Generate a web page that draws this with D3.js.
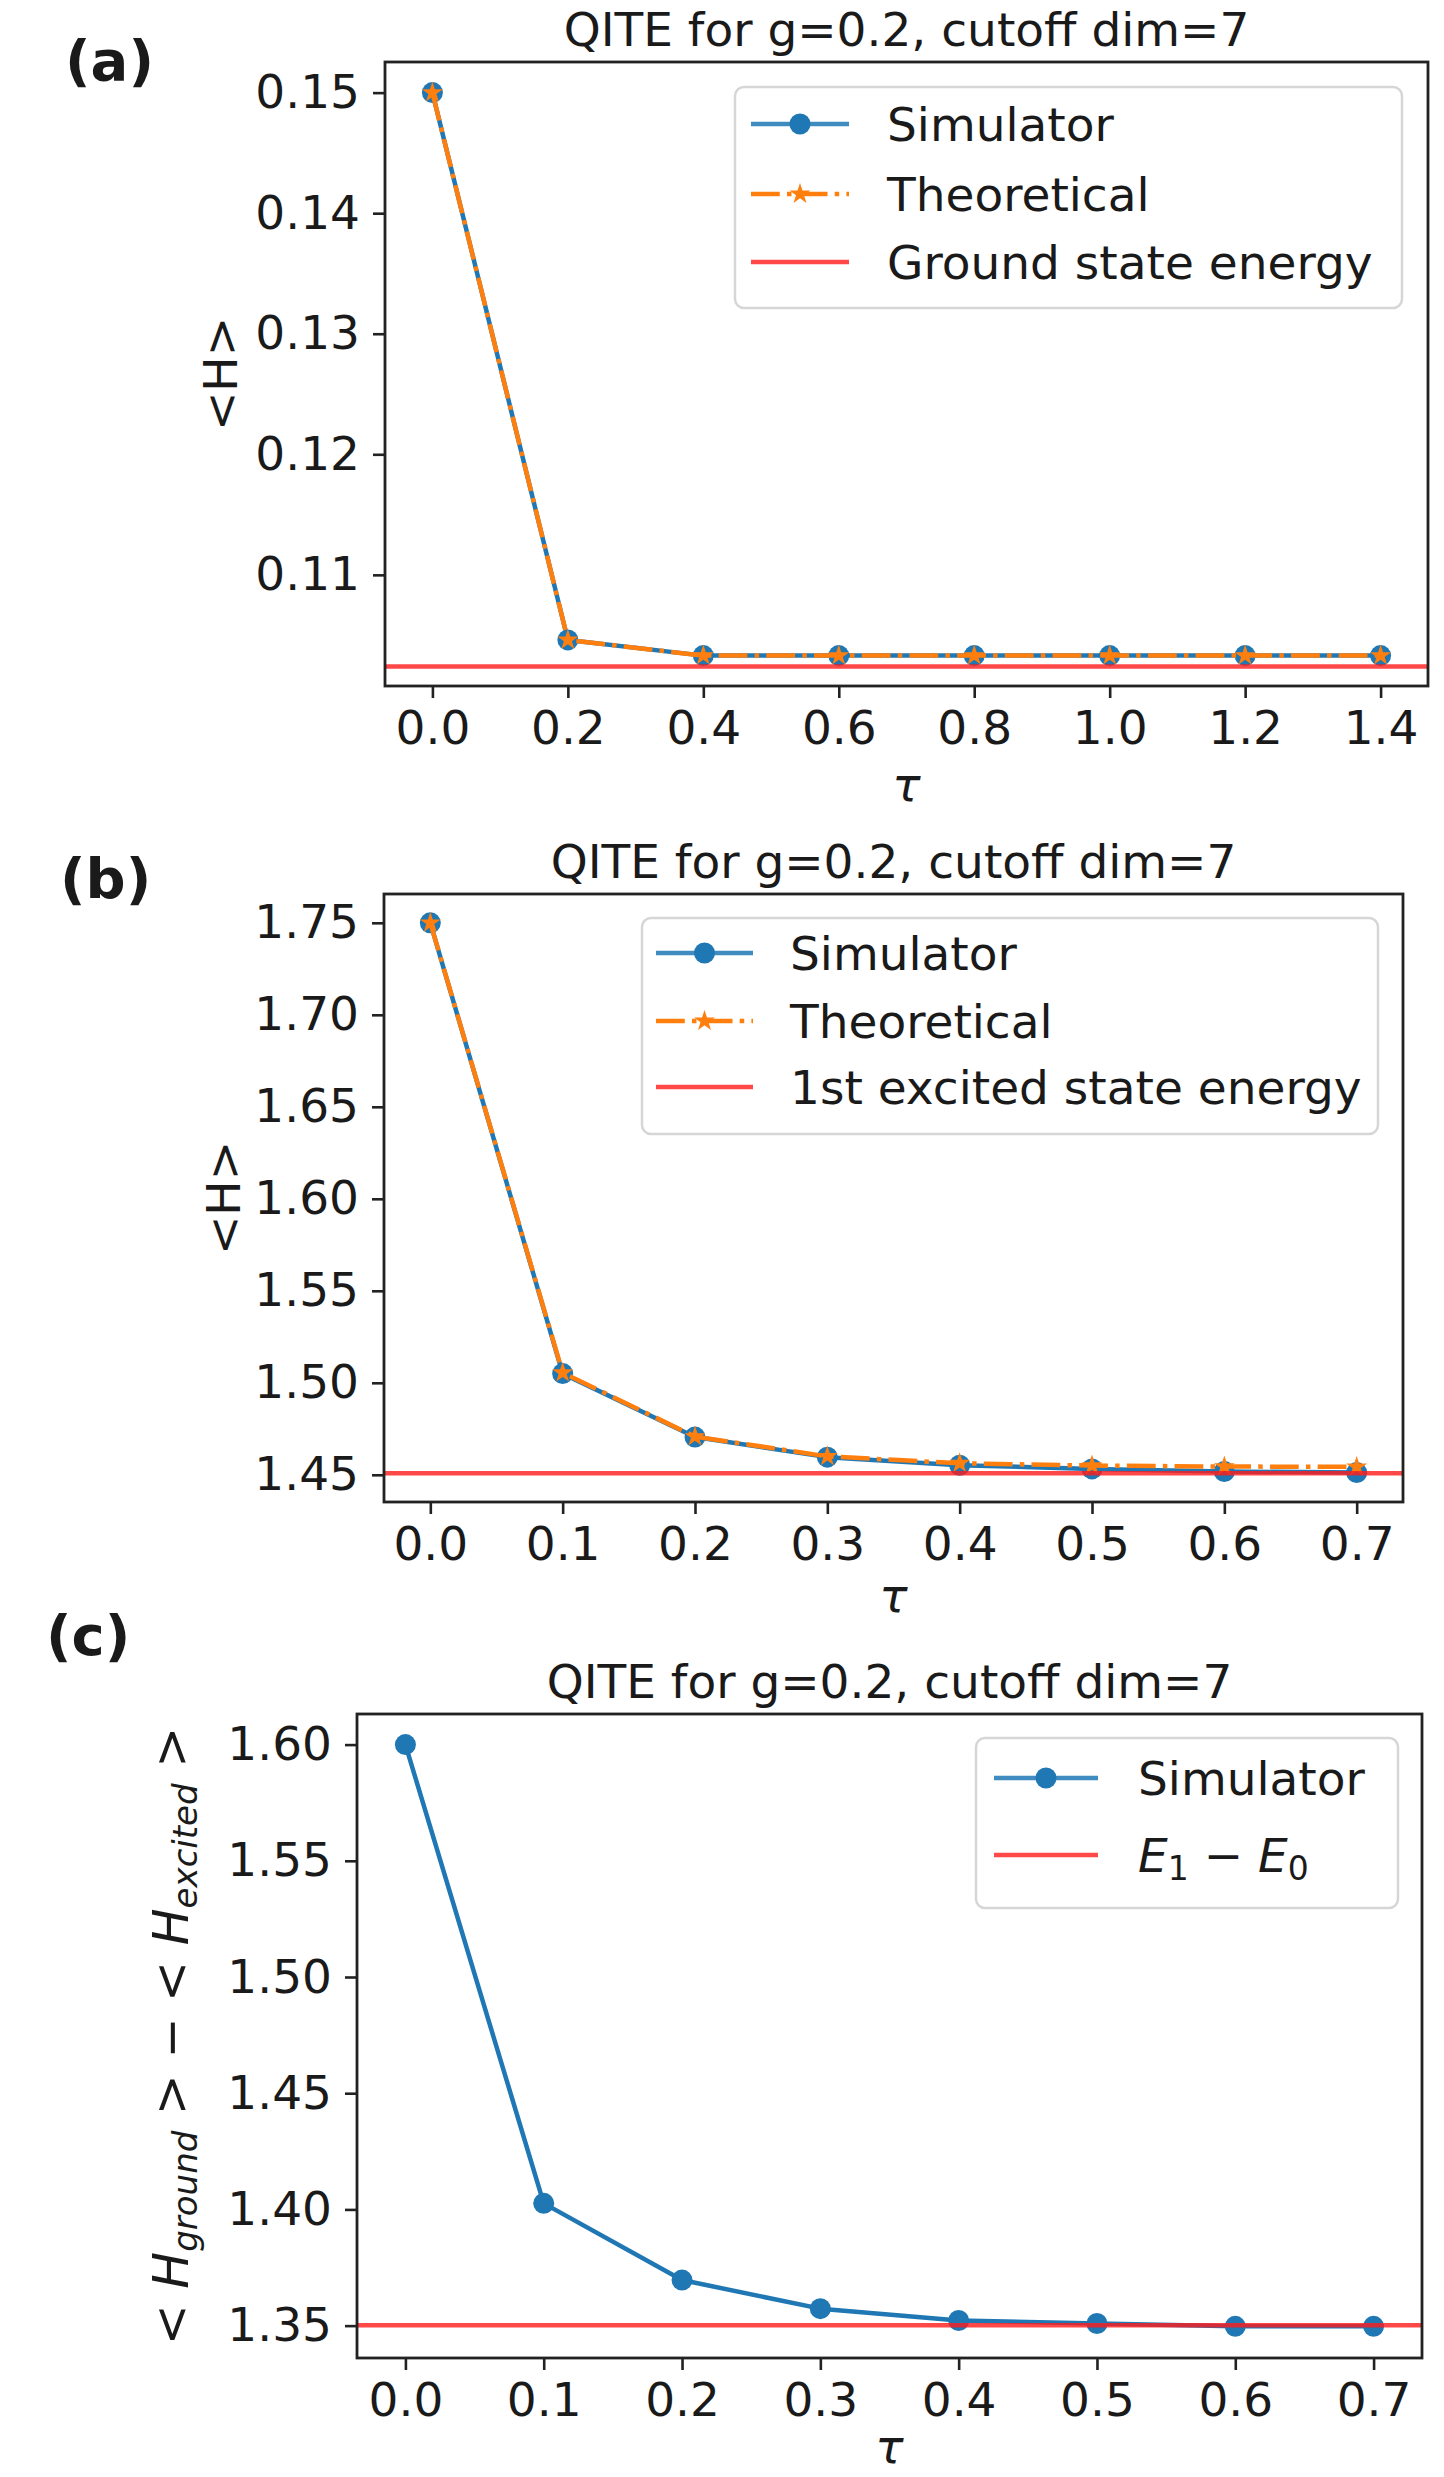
<!DOCTYPE html>
<html><head><meta charset="utf-8">
<script src="https://cdn.jsdelivr.net/npm/d3@7"></script>
<style>
body{margin:0;background:#fff}
svg{display:block}
text{font-family:'DejaVu Sans',sans-serif;fill:#1a1a1a}
</style>
</head><body>
<svg id="fig" width="1444" height="2477"></svg>
<script>
// ---------- data ----------
const titleText = "QITE for g=0.2, cutoff dim=7";

const tauA = [0, 0.2, 0.4, 0.6, 0.8, 1.0, 1.2, 1.4];
const simA = [0.1500, 0.1046, 0.1033, 0.1033, 0.1033, 0.1033, 0.1033, 0.1033];
const theoA = [0.1500, 0.1046, 0.1033, 0.1033, 0.1033, 0.1033, 0.1033, 0.1033];
const groundA = 0.1024;
const yTicksA = [0.11, 0.12, 0.13, 0.14, 0.15];

const tauB = [0, 0.1, 0.2, 0.3, 0.4, 0.5, 0.6, 0.7];
const simB = [1.750, 1.5050, 1.4705, 1.4596, 1.4552, 1.4532, 1.4518, 1.4512];
const theoB = [1.750, 1.5055, 1.4708, 1.4600, 1.4563, 1.4550, 1.4545, 1.4543];
const excitedB = 1.4508;
const yTicksB = [1.45, 1.50, 1.55, 1.60, 1.65, 1.70, 1.75];

const tauC = [0, 0.1, 0.2, 0.3, 0.4, 0.5, 0.6, 0.7];
const simC = [1.600, 1.4026, 1.3696, 1.3573, 1.3522, 1.3509, 1.3497, 1.3497];
const gapC = 1.3502;
const yTicksC = [1.35, 1.40, 1.45, 1.50, 1.55, 1.60];

// ---------- drawing ----------
const svg = d3.select('#fig');
const BLUE = '#1f77b4', ORANGE = '#ff7f0e', RED = '#ff1a1a';
const FS = 47, LW = 4.5, MR = 10.5;
const DASHDOT = [6.4*LW, 1.6*LW, 1.0*LW, 1.6*LW].join(',');

function starPath(R) {
  const p = [];
  for (let i = 0; i < 10; i++) {
    const r = i % 2 ? R * 0.382 : R;
    const a = -Math.PI / 2 + i * Math.PI / 5;
    p.push([r * Math.cos(a), r * Math.sin(a)]);
  }
  return 'M' + p.map(d => d[0].toFixed(2) + ',' + d[1].toFixed(2)).join('L') + 'Z';
}
function padDomain(v) {
  const lo = d3.min(v), hi = d3.max(v), r = hi - lo;
  return [lo - 0.05 * r, hi + 0.05 * r];
}

let clipId = 0;
function panel(cfg) {
  const g = svg.append('g');
  const x = d3.scaleLinear().domain(padDomain(cfg.tau)).range([cfg.left, cfg.right]);
  const y = d3.scaleLinear().domain(cfg.yDom).range([cfg.bottom, cfg.top]);
  const id = 'clip' + (clipId++);
  g.append('clipPath').attr('id', id).append('rect')
    .attr('x', cfg.left).attr('y', cfg.top)
    .attr('width', cfg.right - cfg.left).attr('height', cfg.bottom - cfg.top);
  const plot = g.append('g').attr('clip-path', `url(#${id})`);
  const line = d3.line().x((d, i) => x(cfg.tau[i])).y(d => y(d));

  // simulator
  plot.append('path').datum(cfg.sim).attr('d', line)
    .attr('fill', 'none').attr('stroke', BLUE).attr('stroke-width', LW)
    .attr('stroke-linejoin', 'round');
  plot.selectAll('.simpt').data(cfg.sim).enter().append('circle')
    .attr('cx', (d, i) => x(cfg.tau[i])).attr('cy', d => y(d)).attr('r', MR)
    .attr('fill', BLUE);
  // theoretical
  if (cfg.theo) {
    plot.append('path').datum(cfg.theo).attr('d', line)
      .attr('fill', 'none').attr('stroke', ORANGE).attr('stroke-width', LW)
      .attr('stroke-dasharray', DASHDOT);
    plot.selectAll('.thpt').data(cfg.theo).enter().append('path')
      .attr('d', starPath(MR + 0.5))
      .attr('transform', (d, i) => `translate(${x(cfg.tau[i])},${y(d)})`)
      .attr('fill', ORANGE);
  }
  // reference line
  plot.append('line').attr('x1', cfg.left).attr('x2', cfg.right)
    .attr('y1', y(cfg.ref)).attr('y2', y(cfg.ref))
    .attr('stroke', RED).attr('stroke-width', LW).attr('stroke-opacity', 0.8);

  // axes
  const xa = d3.axisBottom(x).tickValues(cfg.tau).tickFormat(d3.format('.1f'))
    .tickSize(12).tickPadding(13);
  const gx = g.append('g').attr('transform', `translate(0,${cfg.bottom})`).call(xa);
  const ya = d3.axisLeft(y).tickValues(cfg.yTicks).tickFormat(d3.format('.2f'))
    .tickSize(12).tickPadding(13);
  const gy = g.append('g').attr('transform', `translate(${cfg.left},0)`).call(ya);
  [gx, gy].forEach(a => {
    a.select('.domain').remove();
    a.selectAll('.tick line').attr('stroke', '#222').attr('stroke-width', 2.6);
    a.selectAll('.tick text').attr('font-size', FS).attr('font-family', 'DejaVu Sans').attr('fill', '#1a1a1a');
  });

  // frame
  g.append('rect').attr('x', cfg.left).attr('y', cfg.top)
    .attr('width', cfg.right - cfg.left).attr('height', cfg.bottom - cfg.top)
    .attr('fill', 'none').attr('stroke', '#222').attr('stroke-width', 2.8);

  // title
  g.append('text').attr('x', (cfg.left + cfg.right) / 2).attr('y', cfg.top - 16)
    .attr('text-anchor', 'middle').attr('font-size', FS).text(titleText);

  // x label
  g.append('text').attr('x', (cfg.left + cfg.right) / 2).attr('y', cfg.bottom + cfg.xlabelOff)
    .attr('text-anchor', 'middle').attr('font-size', FS).attr('font-style', 'italic').text('τ');

  // y label
  const yl = g.append('text')
    .attr('transform', `translate(${cfg.ylabelX},${(cfg.top + cfg.bottom) / 2}) rotate(-90)`)
    .attr('text-anchor', 'middle').attr('font-size', cfg.ylabelFS || FS);
  cfg.ylabel(yl);

  // panel letter
  svg.append('text').attr('x', cfg.letterX).attr('y', cfg.letterY)
    .attr('font-family', 'Liberation Sans, Arial, sans-serif').attr('font-weight', 'bold')
    .attr('font-size', 56).attr('fill', '#000').text(cfg.letter);

  // legend
  const L = cfg.legend;
  const lg = g.append('g');
  lg.append('rect').attr('x', L.x0).attr('y', L.y0)
    .attr('width', L.x1 - L.x0).attr('height', L.y1 - L.y0).attr('rx', 9)
    .attr('fill', '#fff').attr('fill-opacity', 0.8)
    .attr('stroke', '#d6d6d6').attr('stroke-width', 2.5);
  L.items.forEach((it, k) => {
    const yy = L.rows[k];
    const hx0 = L.h0, hx1 = L.h1, hm = (hx0 + hx1) / 2;
    if (it.type === 'sim') {
      lg.append('line').attr('x1', hx0).attr('x2', hx1).attr('y1', yy).attr('y2', yy)
        .attr('stroke', BLUE).attr('stroke-width', LW).attr('stroke-opacity', 0.85);
      lg.append('circle').attr('cx', hm).attr('cy', yy).attr('r', MR).attr('fill', BLUE);
    } else if (it.type === 'theo') {
      lg.append('line').attr('x1', hx0).attr('x2', hx1).attr('y1', yy).attr('y2', yy)
        .attr('stroke', ORANGE).attr('stroke-width', LW).attr('stroke-dasharray', DASHDOT);
      lg.append('path').attr('d', starPath(MR + 0.5)).attr('transform', `translate(${hm},${yy})`)
        .attr('fill', ORANGE);
    } else {
      lg.append('line').attr('x1', hx0).attr('x2', hx1).attr('y1', yy).attr('y2', yy)
        .attr('stroke', RED).attr('stroke-width', LW).attr('stroke-opacity', 0.8);
    }
    const t = lg.append('text').attr('x', L.tx).attr('y', yy + 17).attr('font-size', FS);
    if (typeof it.label === 'function') it.label(t); else t.text(it.label);
  });
}

// --- panel (a)
panel({
  letter: '(a)', letterX: 65, letterY: 80,
  tau: tauA, sim: simA, theo: theoA, ref: groundA, yTicks: yTicksA,
  left: 385, right: 1428, top: 62, bottom: 686, yDom: [0.10078, 0.15254],
  xlabelOff: 115,
  ylabelX: 237, ylabel: t => t.text('<H>'),
  legend: { x0: 735, x1: 1402, y0: 87, y1: 308, h0: 751, h1: 849, tx: 887,
    rows: [124, 194, 262],
    items: [{type: 'sim', label: 'Simulator'}, {type: 'theo', label: 'Theoretical'},
            {type: 'ref', label: 'Ground state energy'}] }
});

// --- panel (b)
panel({
  letter: '(b)', letterX: 60, letterY: 898,
  tau: tauB, sim: simB, theo: theoB, ref: excitedB, yTicks: yTicksB,
  left: 384, right: 1403, top: 894, bottom: 1502, yDom: [1.43522, 1.76566],
  xlabelOff: 110,
  ylabelX: 240, ylabel: t => t.text('<H>'),
  legend: { x0: 642, x1: 1378, y0: 918, y1: 1134, h0: 656, h1: 753, tx: 790,
    rows: [953, 1021, 1087],
    items: [{type: 'sim', label: 'Simulator'}, {type: 'theo', label: 'Theoretical'},
            {type: 'ref', label: '1st excited state energy'}] }
});

// --- panel (c)
panel({
  letter: '(c)', letterX: 46, letterY: 1655,
  tau: tauC, sim: simC, theo: null, ref: gapC, yTicks: yTicksC,
  left: 357, right: 1422, top: 1714, bottom: 2358, yDom: [1.33607, 1.61316],
  xlabelOff: 105,
  ylabelX: 188, ylabelFS: 49,
  ylabel: t => {
    t.append('tspan').text('< ');
    t.append('tspan').attr('font-style', 'italic').text('H');
    t.append('tspan').attr('font-style', 'italic').attr('font-size', 34).attr('dy', 9).text('ground');
    t.append('tspan').attr('dy', -9).text(' > \u2212 < ');
    t.append('tspan').attr('font-style', 'italic').text('H');
    t.append('tspan').attr('font-style', 'italic').attr('font-size', 34).attr('dy', 9).text('excited');
    t.append('tspan').attr('dy', -9).text(' >');
  },
  legend: { x0: 976, x1: 1398, y0: 1738, y1: 1908, h0: 994, h1: 1098, tx: 1138,
    rows: [1778, 1855],
    items: [{type: 'sim', label: 'Simulator'},
            {type: 'ref', label: t => {
              t.append('tspan').attr('font-style', 'italic').text('E');
              t.append('tspan').attr('font-size', 33).attr('dy', 8).text('1');
              t.append('tspan').attr('dy', -8).text(' \u2212 ');
              t.append('tspan').attr('font-style', 'italic').text('E');
              t.append('tspan').attr('font-size', 33).attr('dy', 8).text('0');
            }}] }
});
</script>
</body></html>
